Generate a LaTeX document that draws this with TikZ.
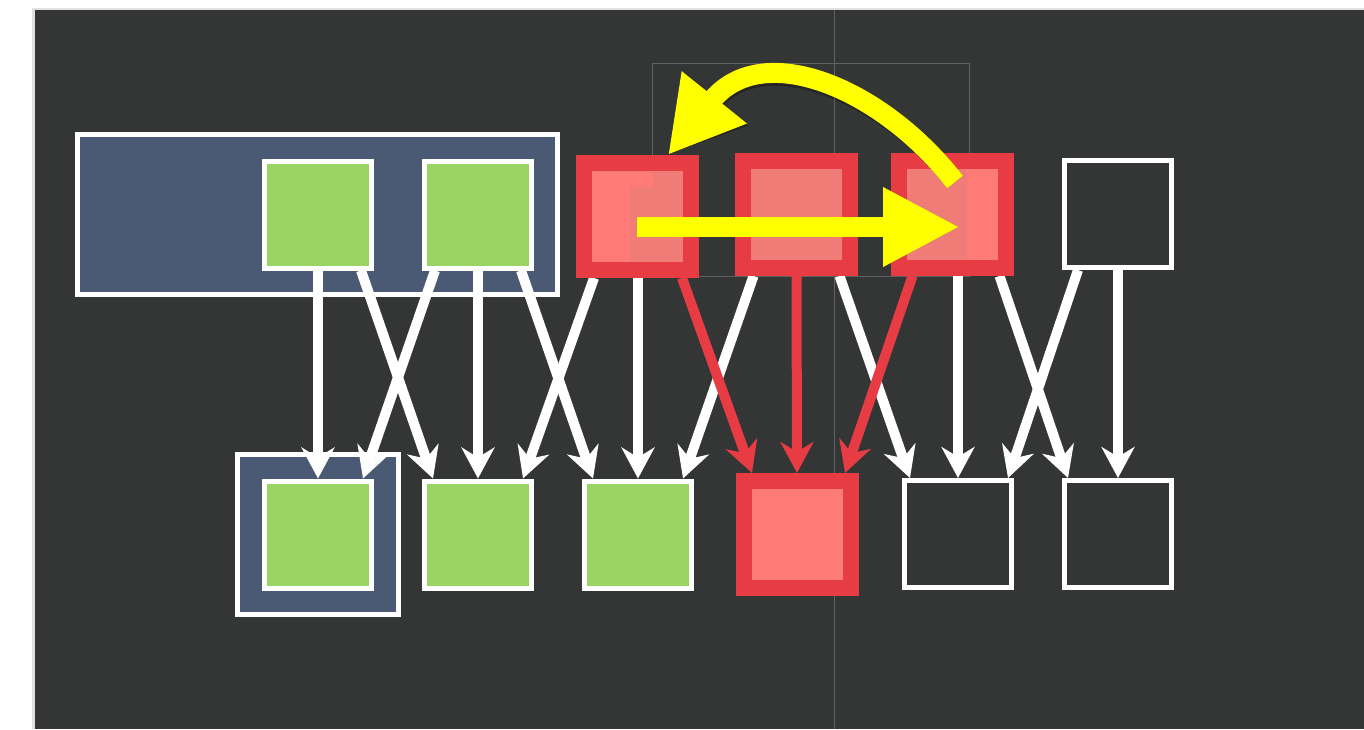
\documentclass[tikz,border=0pt]{standalone}
\usetikzlibrary{arrows.meta}
\definecolor{bg}{HTML}{343535}
\definecolor{navy}{HTML}{4A5A74}
\definecolor{lime}{HTML}{9AD462}
\definecolor{redb}{HTML}{E83C44}
\definecolor{pinkA}{HTML}{FF7B77}
\definecolor{pinkB}{HTML}{F07C78}
\definecolor{yel}{HTML}{FFFF00}
\definecolor{faint}{HTML}{616262}
\pgfdeclarelayer{back}
\pgfdeclarelayer{mid}
\pgfdeclarelayer{front}
\pgfsetlayers{back,mid,main,front}
\begin{document}
\begin{tikzpicture}[x=1pt,y=-1pt,
  panel/.style={draw=white,line width=5pt,fill=navy,inner sep=0pt},
  greenbox/.style={draw=white,line width=5pt,fill=lime,inner sep=0pt,minimum size=107pt},
  emptybox/.style={draw=white,line width=5pt,inner sep=0pt,minimum size=107pt},
  redbox/.style={draw=redb,line width=16pt,fill=pinkB,inner sep=0pt,minimum size=107pt},
  warrow/.style={draw=white,line width=10pt,-{Stealth[length=31pt,width=33pt,inset=10pt]}},
  rarrow/.style={draw=redb,line width=10pt,-{Stealth[length=31pt,width=33pt,inset=10pt]}},
  yarrow/.style={draw=yel,line width=20pt},
  yshadow/.style={draw=black,opacity=0.3,line width=20pt}
]
\useasboundingbox (0,0) rectangle (1364,729);
\begin{pgfonlayer}{back}
  \fill[white] (0,0) rectangle (1364,729);
  \fill[black!12] (32,8) rectangle (35,729);
  \fill[black!12] (32,8) rectangle (1364,10);
  \fill[bg] (35,10) rectangle (1364,729);
  \draw[faint,line width=1pt] (834,10) -- (834,729);
  \draw[faint,line width=0.8pt] (652,63) rectangle (969,276);
  \node[panel,minimum width=480pt,minimum height=160pt] (p1) at (317.5,214.5) {};
  \node[panel,minimum width=161pt,minimum height=160pt] (p2) at (318,534.5) {};
\end{pgfonlayer}

% top row
\node[greenbox] (t1) at (318,214.5) {};
\node[greenbox] (t2) at (478,214.5) {};
\node[redbox] (t3) at (637,216.5) {};
\node[redbox] (t4) at (796.5,214.5) {};
\node[redbox] (t5) at (952.5,214.5) {};
\node[emptybox] (t6) at (1118,214) {};
% bottom row
\node[greenbox] (b1) at (318,534.5) {};
\node[greenbox] (b2) at (478,534.5) {};
\node[greenbox] (b3) at (638,534.5) {};
\node[redbox,fill=pinkA] (b4) at (797,534.5) {};
\node[emptybox] (b5) at (958,534) {};
\node[emptybox] (b6) at (1118,534) {};
% inner shades of the red boxes
\fill[pinkA] (592,172) rectangle (630,262);
\fill[pinkA] (630,172) rectangle (653,187);
\fill[pinkA] (967,169) rectangle (998,259);

\begin{pgfonlayer}{mid}
  % white connectors
  \draw[warrow] (t1.south) -- (b1.north);
  \draw[warrow] ([xshift=43pt]t1.south) -- ([xshift=-45pt]b2.north);
  \draw[warrow] ([xshift=-43pt]t2.south) -- ([xshift=45pt]b1.north);
  \draw[warrow] (t2.south) -- (b2.north);
  \draw[warrow] ([xshift=43pt]t2.south) -- ([xshift=-45pt]b3.north);
  \draw[warrow] ([xshift=-43pt]t3.south) -- ([xshift=45pt]b2.north);
  \draw[warrow] ([xshift=1pt]t3.south) -- (b3.north);
  \draw[warrow] ([xshift=-43pt]t4.south) -- ([xshift=45pt]b3.north);
  \draw[warrow] ([xshift=43pt]t4.south) -- ([xshift=-48pt]b5.north);
  \draw[warrow] ([xshift=5.5pt]t5.south) -- (b5.north);
  \draw[warrow] ([xshift=47pt]t5.south) -- ([xshift=-50pt]b6.north);
  \draw[warrow] ([xshift=-40pt]t6.south) -- ([xshift=50pt]b5.north);
  \draw[warrow] (t6.south) -- (b6.north);
  % red connectors
  \draw[rarrow] ([xshift=45pt]t3.south) -- ([xshift=-45pt]b4.north);
  \draw[rarrow] (t4.south) -- (b4.north);
  \draw[rarrow] ([xshift=-40pt]t5.south) -- ([xshift=48pt]b4.north);
\end{pgfonlayer}

\begin{pgfonlayer}{front}
  \coordinate (ys) at (637,227);
  \coordinate (ye) at (960,227);
  \coordinate (cs) at (955,182);
  \coordinate (ce) at (668,155);
  \begin{scope}[shift={(2,4)}]
    \draw[yshadow,-{Triangle[length=77pt,width=74pt]}] (ys) -- (ye);
    \draw[yshadow,-{Triangle[length=74pt,width=78pt]}] (cs) .. controls (882,88) and (762,38) .. (ce);
  \end{scope}
  \draw[yarrow,-{Triangle[length=77pt,width=74pt]}] (ys) -- (ye);
  \draw[yarrow,-{Triangle[length=74pt,width=78pt]}] (cs) .. controls (882,88) and (762,38) .. (ce);
\end{pgfonlayer}
\end{tikzpicture}
\end{document}
